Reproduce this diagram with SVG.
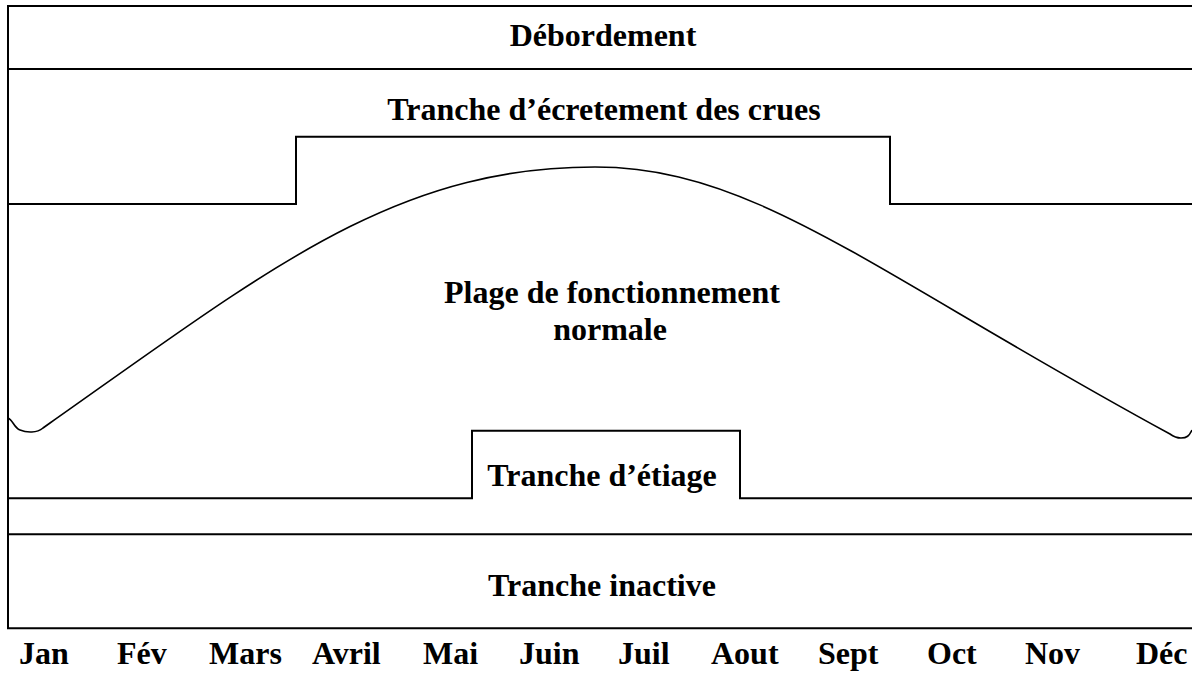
<svg xmlns="http://www.w3.org/2000/svg" width="1192" height="676" viewBox="0 0 1192 676">
<style>
.ln{fill:none;stroke:#000;stroke-width:2;stroke-linecap:square}
.cv{fill:none;stroke:#000;stroke-width:1.6}
.t{font-family:"Liberation Serif","Times New Roman",serif;font-weight:bold;font-size:32px;fill:#000}
.c{text-anchor:middle}
</style>
<rect width="1192" height="676" fill="#fff"/>
<g id="connectors">
<path class="ln" d="M8,6 H1193 M8,6 V628.3 H1193 M8,69 H1193"/>
<path class="ln" d="M8,204 H296 V136.7 H890 V204 H1193"/>
<path class="ln" d="M8,498.3 H472 V430.7 H740 V498.3 H1193"/>
<path class="ln" d="M8,534.3 H1193"/>
<path class="cv" d="M8,418 C13,420 14,428 20,430 C27,433 37,433 43,428 L50,423 C270,268 395,167 595,167 C755,167 870,271 1170,434 C1174,437 1176,438 1181,438 C1187,438 1189,436 1192,430"/>
</g>
<g id="debordement"><text class="t c" x="603" y="46">Débordement</text></g>
<g id="ecretement"><text class="t c" x="604" y="120">Tranche d’écretement des crues</text></g>
<g id="plage"><text class="t c" x="612" y="303">Plage de fonctionnement</text><text class="t c" x="610" y="340">normale</text></g>
<g id="etiage"><text class="t c" x="602" y="486">Tranche d’étiage</text></g>
<g id="inactive"><text class="t c" x="602" y="596">Tranche inactive</text></g>
<g id="months">
<text class="t" x="19" y="664">Jan</text>
<text class="t" x="117" y="664">Fév</text>
<text class="t" x="209" y="664">Mars</text>
<text class="t" x="312" y="664">Avril</text>
<text class="t" x="423" y="664">Mai</text>
<text class="t" x="519" y="664">Juin</text>
<text class="t" x="618" y="664">Juil</text>
<text class="t" x="711" y="664">Aout</text>
<text class="t" x="818" y="664">Sept</text>
<text class="t" x="927" y="664">Oct</text>
<text class="t" x="1025" y="664">Nov</text>
<text class="t" x="1136" y="664">Déc</text>
</g>
</svg>
